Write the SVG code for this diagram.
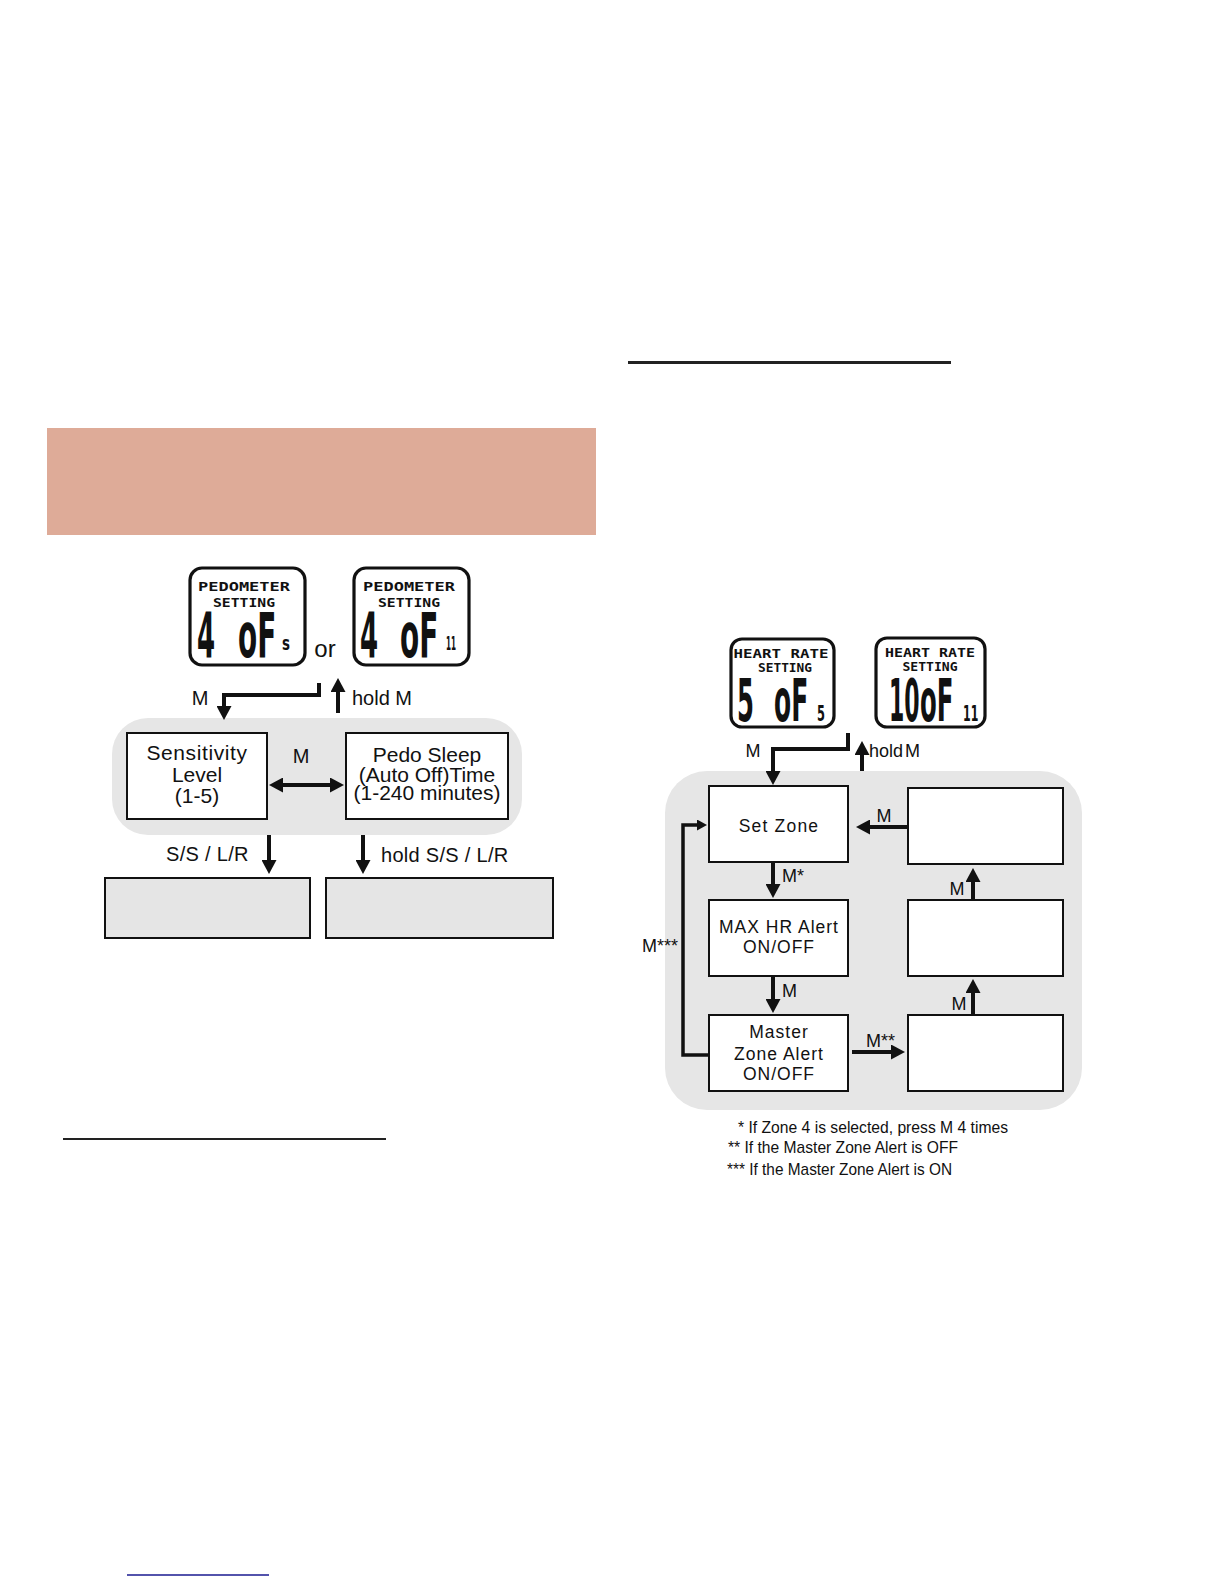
<svg xmlns="http://www.w3.org/2000/svg" width="1224" height="1584" viewBox="0 0 1224 1584">
<defs>
<style>
.lbl{font-family:"Liberation Sans",Arial,sans-serif;fill:#111;}
.lcdt{font-family:"DejaVu Sans Mono","Liberation Mono",monospace;font-weight:bold;fill:#111;}
.seg{font-family:"DejaVu Sans","Liberation Sans",sans-serif;font-weight:bold;fill:#111;}
.lcd{fill:#fff;stroke:#111;stroke-width:3.2;}
.box{fill:#fff;stroke:#111;stroke-width:2;}
.gbox{fill:#e5e5e5;stroke:#111;stroke-width:2;}
.zone{fill:#e6e6e6;}
.con{fill:none;stroke:#111;stroke-width:4;marker-end:url(#ah);}
.fn{font-family:"Liberation Sans",Arial,sans-serif;fill:#111;font-size:17px;}
</style>
<marker id="ah" markerUnits="userSpaceOnUse" markerWidth="15" markerHeight="15" refX="1" refY="7.5" orient="auto-start-reverse"><path d="M0,0 L14,7.5 L0,15 z" fill="#111"/></marker>
<marker id="ahs" markerUnits="userSpaceOnUse" markerWidth="11" markerHeight="11" refX="1" refY="5.5" orient="auto"><path d="M0,0 L10,5.5 L0,11 z" fill="#111"/></marker>
</defs>
<rect width="1224" height="1584" fill="#fff"/>
<rect x="47" y="428" width="549" height="107" fill="#deab98"/>
<line x1="628" y1="362.5" x2="951" y2="362.5" stroke="#222" stroke-width="3"/>
<line x1="63" y1="1139" x2="386" y2="1139" stroke="#222" stroke-width="2"/>
<line x1="127" y1="1575" x2="269" y2="1575" stroke="#1a1a90" stroke-width="1.5"/>

<!-- Pedometer section -->
<rect class="zone" x="112" y="718" width="410" height="117" rx="36"/>
<g id="lcd-pedo-5">
<rect class="lcd" x="190" y="568" width="115" height="97" rx="12"/>
<text class="lcdt" x="244" y="591" font-size="13" text-anchor="middle" textLength="92" lengthAdjust="spacingAndGlyphs">PEDOMETER</text>
<text class="lcdt" x="244" y="607" font-size="13" text-anchor="middle" textLength="62" lengthAdjust="spacingAndGlyphs">SETTING</text>
<text class="seg" transform="translate(197,657) scale(0.42,1)" font-size="62">4</text>
<text class="seg" transform="translate(238,657) scale(0.45,1)" font-size="62">oF</text>
<text class="seg" transform="translate(282,650) scale(0.67,1)" font-size="20">s</text>
</g>
<text class="lbl" x="325" y="657" font-size="24" text-anchor="middle">or</text>
<g id="lcd-pedo-11">
<rect class="lcd" x="354" y="568" width="115" height="97" rx="12"/>
<text class="lcdt" x="409" y="591" font-size="13" text-anchor="middle" textLength="92" lengthAdjust="spacingAndGlyphs">PEDOMETER</text>
<text class="lcdt" x="409" y="607" font-size="13" text-anchor="middle" textLength="62" lengthAdjust="spacingAndGlyphs">SETTING</text>
<text class="seg" transform="translate(360,657) scale(0.42,1)" font-size="62">4</text>
<text class="seg" transform="translate(400,657) scale(0.45,1)" font-size="62">oF</text>
<text class="seg" transform="translate(446,650) scale(0.36,1)" font-size="20">11</text>
</g>
<g id="sensitivity">
<rect class="box" x="127" y="733" width="140" height="86"/>
<text class="lbl" x="197" y="760" font-size="21" text-anchor="middle" letter-spacing="0.6">Sensitivity</text>
<text class="lbl" x="197" y="782" font-size="21" text-anchor="middle">Level</text>
<text class="lbl" x="197" y="803" font-size="21" text-anchor="middle">(1-5)</text>
</g>
<g id="pedo-sleep">
<rect class="box" x="346" y="733" width="162" height="86"/>
<text class="lbl" x="427" y="762" font-size="21" text-anchor="middle">Pedo Sleep</text>
<text class="lbl" x="427" y="782" font-size="21" text-anchor="middle">(Auto Off)Time</text>
<text class="lbl" x="427" y="800" font-size="21" text-anchor="middle">(1-240 minutes)</text>
</g>
<g id="ss-box"><rect class="gbox" x="105" y="878" width="205" height="60"/></g>
<g id="hold-ss-box"><rect class="gbox" x="326" y="878" width="227" height="60"/></g>

<!-- Heart rate section -->
<rect class="zone" x="665" y="771" width="417" height="339" rx="42"/>
<g id="lcd-hr-5">
<rect class="lcd" x="731" y="639" width="103" height="88" rx="11"/>
<text class="lcdt" x="781" y="658" font-size="12" text-anchor="middle" textLength="95" lengthAdjust="spacingAndGlyphs">HEART RATE</text>
<text class="lcdt" x="785" y="672" font-size="12" text-anchor="middle" textLength="54" lengthAdjust="spacingAndGlyphs">SETTING</text>
<text class="seg" transform="translate(737,721) scale(0.42,1)" font-size="58">5</text>
<text class="seg" transform="translate(774,721) scale(0.43,1)" font-size="58">oF</text>
<text class="seg" transform="translate(817,721) scale(0.52,1)" font-size="22">5</text>
</g>
<g id="lcd-hr-11">
<rect class="lcd" x="876" y="638" width="109" height="89" rx="11"/>
<text class="lcdt" x="930" y="657" font-size="12" text-anchor="middle" textLength="90" lengthAdjust="spacingAndGlyphs">HEART RATE</text>
<text class="lcdt" x="930" y="671" font-size="12" text-anchor="middle" textLength="55" lengthAdjust="spacingAndGlyphs">SETTING</text>
<text class="seg" transform="translate(889,721) scale(0.38,1)" font-size="58">10</text>
<text class="seg" transform="translate(920,721) scale(0.42,1)" font-size="58">oF</text>
<text class="seg" transform="translate(963,721) scale(0.5,1)" font-size="22">11</text>
</g>
<g id="set-zone">
<rect class="box" x="709" y="786" width="139" height="76"/>
<text class="lbl" x="779" y="832" font-size="17.5" text-anchor="middle" letter-spacing="1.2">Set Zone</text>
</g>
<g id="max-hr">
<rect class="box" x="709" y="900" width="139" height="76"/>
<text class="lbl" x="779" y="933" font-size="17.5" text-anchor="middle" letter-spacing="1">MAX HR Alert</text>
<text class="lbl" x="779" y="953" font-size="17.5" text-anchor="middle" letter-spacing="1">ON/OFF</text>
</g>
<g id="master-zone">
<rect class="box" x="709" y="1015" width="139" height="76"/>
<text class="lbl" x="779" y="1038" font-size="17.5" text-anchor="middle" letter-spacing="1">Master</text>
<text class="lbl" x="779" y="1060" font-size="17.5" text-anchor="middle" letter-spacing="1">Zone Alert</text>
<text class="lbl" x="779" y="1080" font-size="17.5" text-anchor="middle" letter-spacing="1">ON/OFF</text>
</g>
<g id="right-top"><rect class="box" x="908" y="788" width="155" height="76"/></g>
<g id="right-mid"><rect class="box" x="908" y="900" width="155" height="76"/></g>
<g id="right-bottom"><rect class="box" x="908" y="1015" width="155" height="76"/></g>

<g id="connectors">
<path class="con" d="M319,683 V695 H224 V707" stroke-width="3.5"/>
<path class="con" d="M338,713 V691" stroke-width="3.5"/>
<path class="con" d="M282,785 H331" stroke-width="3.5" marker-start="url(#ah)"/>
<path class="con" d="M269,835 V861" stroke-width="3.5"/>
<path class="con" d="M363,835 V861" stroke-width="3.5"/>
<path class="con" d="M848,733 V749 H773 V772"/>
<path class="con" d="M862,771 V754"/>
<path class="con" d="M908,827 H869"/>
<path class="con" d="M773,862 V885"/>
<path class="con" d="M773,976 V1000"/>
<path class="con" d="M852,1052 H892"/>
<path class="con" d="M973,900 V881"/>
<path class="con" d="M973,1015 V992"/>
<path d="M709,1055 H683 V825 H698" fill="none" stroke="#111" stroke-width="3.5" marker-end="url(#ahs)"/>
</g>

<g id="labels">
<text class="lbl" x="200" y="705" font-size="20" text-anchor="middle">M</text>
<text class="lbl" x="352" y="705" font-size="20">hold  M</text>
<text class="lbl" x="301" y="763" font-size="20" text-anchor="middle">M</text>
<text class="lbl" x="166" y="861" font-size="20" letter-spacing="0.3">S/S / L/R</text>
<text class="lbl" x="381" y="862" font-size="20" letter-spacing="0.3">hold S/S / L/R</text>
<text class="lbl" x="753" y="757" font-size="18" text-anchor="middle">M</text>
<text class="lbl" x="869" y="757" font-size="18" word-spacing="-3">hold M</text>
<text class="lbl" x="884" y="822" font-size="18" text-anchor="middle">M</text>
<text class="lbl" x="782" y="882" font-size="18">M*</text>
<text class="lbl" x="957" y="895" font-size="18" text-anchor="middle">M</text>
<text class="lbl" x="782" y="997" font-size="18">M</text>
<text class="lbl" x="959" y="1010" font-size="18" text-anchor="middle">M</text>
<text class="lbl" x="866" y="1047" font-size="18">M**</text>
<text class="lbl" x="642" y="952" font-size="18">M***</text>
</g>
<g id="footnotes">
<text class="fn" x="738" y="1133" textLength="270" lengthAdjust="spacingAndGlyphs">* If Zone 4 is selected, press M 4 times</text>
<text class="fn" x="728" y="1153" textLength="230" lengthAdjust="spacingAndGlyphs">**  If the Master Zone Alert is OFF</text>
<text class="fn" x="727" y="1175" textLength="225" lengthAdjust="spacingAndGlyphs">*** If the Master Zone Alert is ON</text>
</g>
</svg>
